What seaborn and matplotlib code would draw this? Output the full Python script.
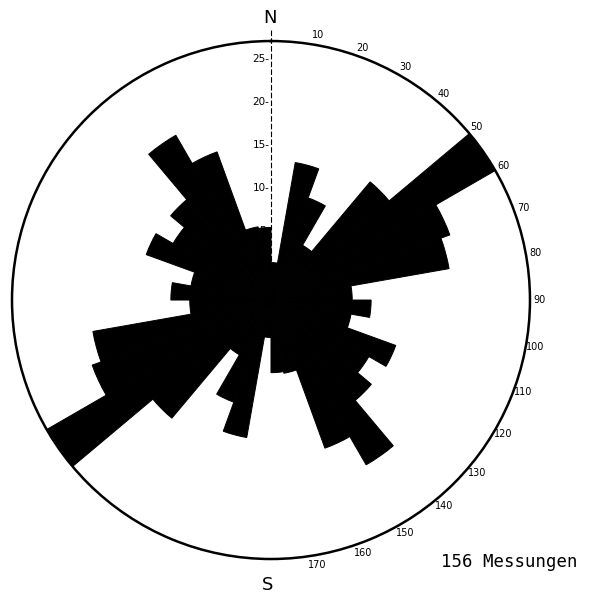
import numpy as np
import matplotlib
matplotlib.use("Agg")
import matplotlib.pyplot as plt
import seaborn as sns

# ---- data (10-degree classes, axial data 0-180 deg, mirrored to 180-360) ----
bin_start_deg = [0, 10, 20, 30, 40, 50, 60, 70, 80,
                 90, 100, 110, 120, 130, 140, 150, 160, 170]
counts = [1.3, 13.2, 9.6, 4.3, 14.9, 27.1, 19.1, 18.0, 6.4,
          8.6, 6.4, 12.4, 10.1, 12.2, 19.1, 15.3, 5.6, 5.4]
radial_ticks = [5, 10, 15, 20, 25]
angle_ticks = [10, 20, 30, 40, 50, 60, 70, 80, 90,
               100, 110, 120, 130, 140, 150, 160, 170]
angle_labels = [str(a) for a in angle_ticks]
north_label = "N"
south_label = "S"
total_label = "156 Messungen"

sns.set_theme(style="white")
plt.rcParams["font.family"] = ["DejaVu Sans"]

fig = plt.figure(figsize=(5.9, 5.94), dpi=100)
ax = fig.add_axes([0.0203, 0.0589, 0.878, 0.872], projection="polar")
ax.set_theta_zero_location("N")
ax.set_theta_direction(-1)

r_min, r_max = -3.06, 27.1
ax.set_ylim(r_min, r_max)

bins = np.array(bin_start_deg, dtype=float)
vals = np.array(counts, dtype=float)
theta = np.deg2rad(np.concatenate([bins, bins + 180]))
heights = np.concatenate([vals, vals])
bars = ax.bar(theta, heights - r_min, width=np.deg2rad(10), bottom=r_min,
              align="edge", color="black", edgecolor="black", linewidth=0.7)
for b in bars:
    b.set_joinstyle("miter")

ax.grid(False)
ax.spines["polar"].set_linewidth(1.8)
ax.spines["polar"].set_color("black")
ax.set_facecolor("white")

# theta ticks
tick_pos = angle_ticks + [0, 180, 270]
tick_lab = angle_labels + ["", "", ""]
ax.set_xticks(np.deg2rad(tick_pos))
ax.set_xticklabels(tick_lab)
ax.tick_params(axis="x", direction="inout", length=8, width=1,
               pad=-4, labelsize=7, colors="black")
ax.set_yticks([])

# north line with radial scale
ax.plot([0, 0], [r_min, 28.5], color="black", lw=0.8,
        ls=(0, (5, 2)), clip_on=False)
for v in radial_ticks:
    ax.annotate(f"{v}-", xy=(0, v), xytext=(-1, 0), textcoords="offset points",
                ha="right", va="center", fontsize=7.5, color="black")

fig.text(270 / 590, 1 - 18 / 594, north_label, ha="center", va="center",
         fontsize=13, color="black")
fig.text(268 / 590, 1 - 585 / 594, south_label, ha="center", va="center",
         fontsize=13, color="black")
fig.text(441 / 590, 1 - 562 / 594, total_label, ha="left", va="center",
         fontsize=12.5, family="DejaVu Sans Mono", color="black")

fig.savefig("out.png", dpi=100, facecolor="white")
